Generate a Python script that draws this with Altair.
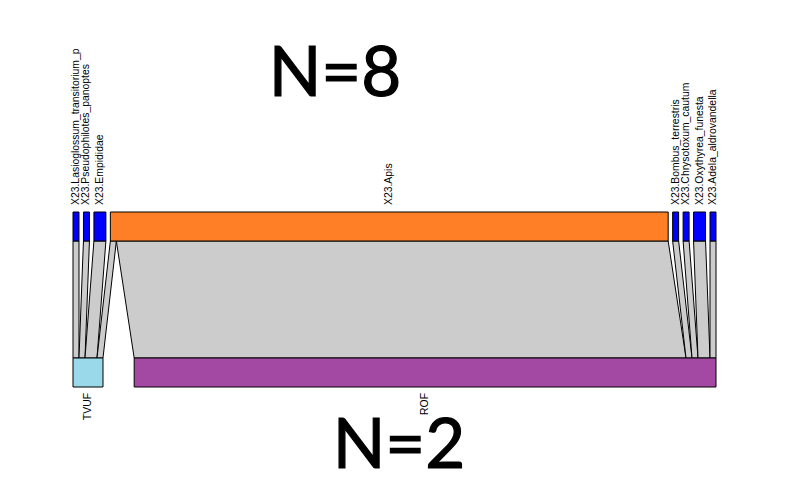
import altair as alt
import pandas as pd

# ---- data ----
top_species = [
    "X23.Lasioglossum_transitorium_p",
    "X23.Pseudophilotes_panoptes",
    "X23.Empididae",
    "X23.Apis",
    "X23.Bombus_terrestris",
    "X23.Chrysotoxum_cautum",
    "X23.Oxythyrea_funesta",
    "X23.Adela_aldrovandella",
]
bottom_sites = ["TVUF", "ROF"]
links_TVUF = [1, 1, 2, 1, 0, 0, 0, 0]
links_ROF = [0, 0, 0, 92, 1, 1, 2, 1]
top_colors = ["#0000FF", "#0000FF", "#0000FF", "#FF7F27", "#0000FF", "#0000FF", "#0000FF", "#0000FF"]
bottom_colors = ["#99D9EA", "#A349A4"]
n_labels = ["N=8", "N=2"]

# ---- layout (plotweb-like) ----
web = [links_TVUF, links_ROF]  # web[j][i]
n_top, n_bot = len(top_species), len(bottom_sites)
top_tot = [sum(web[j][i] for j in range(n_bot)) for i in range(n_top)]
bot_tot = [sum(web[j]) for j in range(n_bot)]
gap_total = 5.2
top_gap = gap_total / (n_top - 1)
bot_gap = gap_total / (n_bot - 1)

top_x0 = []
pos = 0.0
for i in range(n_top):
    top_x0.append(pos)
    pos += top_tot[i] + top_gap
bot_x0 = []
pos = 0.0
for j in range(n_bot):
    bot_x0.append(pos)
    pos += bot_tot[j] + bot_gap
span = sum(top_tot) + gap_total

Y_TOP0, Y_TOP1 = 204, 233
Y_BOT0, Y_BOT1 = 350, 379

boxes = []
for i, name in enumerate(top_species):
    boxes.append(dict(x=top_x0[i], x2=top_x0[i] + top_tot[i], y=Y_TOP0, y2=Y_TOP1,
                      color=top_colors[i], label=name, xc=top_x0[i] + top_tot[i] / 2, level="top"))
for j, name in enumerate(bottom_sites):
    boxes.append(dict(x=bot_x0[j], x2=bot_x0[j] + bot_tot[j], y=Y_BOT0, y2=Y_BOT1,
                      color=bottom_colors[j], label=name, xc=bot_x0[j] + bot_tot[j] / 2, level="bottom"))
boxes = pd.DataFrame(boxes)

# edges
top_off = {i: top_x0[i] for i in range(n_top)}
bot_off = {j: bot_x0[j] for j in range(n_bot)}
top_seg = {}
for i in range(n_top):
    for j in range(n_bot):
        w = web[j][i]
        if w > 0:
            top_seg[(i, j)] = (top_off[i], top_off[i] + w)
            top_off[i] += w
bot_seg = {}
for j in range(n_bot):
    for i in range(n_top):
        w = web[j][i]
        if w > 0:
            bot_seg[(i, j)] = (bot_off[j], bot_off[j] + w)
            bot_off[j] += w
edges = []
k = 0
for (i, j), (a, b) in top_seg.items():
    c, d = bot_seg[(i, j)]
    edges.append(dict(edge=k, y=Y_TOP1, xl=a, xr=b))
    edges.append(dict(edge=k, y=Y_BOT0, xl=c, xr=d))
    k += 1
edges = pd.DataFrame(edges)

W, H = 778, 468
u = 643 / span
x_scale = alt.Scale(domain=[-65 / u, (W - 65) / u], nice=False, zero=False)
y_scale = alt.Scale(domain=[0, H], reverse=True, nice=False, zero=False)

edge_layer = alt.Chart(edges).mark_area(
    orient="horizontal", fill="#CCCCCC", stroke="black", strokeWidth=1
).encode(
    x=alt.X("xl:Q", scale=x_scale, axis=None),
    x2="xr:Q",
    y=alt.Y("y:Q", scale=y_scale, axis=None),
    detail="edge:N",
)

box_layer = alt.Chart(boxes).mark_rect(stroke="black", strokeWidth=1).encode(
    x=alt.X("x:Q", scale=x_scale, axis=None),
    x2="x2:Q",
    y=alt.Y("y:Q", scale=y_scale, axis=None),
    y2="y2:Q",
    color=alt.Color("color:N", scale=None),
)

top_labels = alt.Chart(boxes[boxes.level == "top"]).mark_text(
    angle=270, align="left", baseline="middle", font="Liberation Sans", fontSize=10.4, dx=7
).encode(
    x=alt.X("xc:Q", scale=x_scale, axis=None),
    y=alt.Y("y:Q", scale=y_scale, axis=None),
    text="label:N",
)
bot_labels = alt.Chart(boxes[boxes.level == "bottom"]).mark_text(
    angle=270, align="right", baseline="middle", font="Liberation Sans", fontSize=10.4, dx=-6
).encode(
    x=alt.X("xc:Q", scale=x_scale, axis=None),
    y=alt.Y("y2:Q", scale=y_scale, axis=None),
    text="label:N",
)

n_top_txt = alt.Chart(pd.DataFrame({"t": [n_labels[0]]})).mark_text(
    font="Lato", fontSize=69, align="center", baseline="alphabetic", color="black",
    stroke="black", strokeWidth=1.2
).encode(x=alt.value(327), y=alt.value(88), text="t:N")
n_bot_txt = alt.Chart(pd.DataFrame({"t": [n_labels[1]]})).mark_text(
    font="Lato", fontSize=69, align="center", baseline="alphabetic", color="black",
    stroke="black", strokeWidth=1.2
).encode(x=alt.value(391), y=alt.value(460), text="t:N")

chart = alt.layer(edge_layer, box_layer, top_labels, bot_labels, n_top_txt, n_bot_txt).properties(
    width=W, height=H, autosize=alt.AutoSizeParams(type="none"), padding=0
).configure_view(stroke=None)

chart.save("out.html", embed_options={"renderer": "svg", "actions": False})
